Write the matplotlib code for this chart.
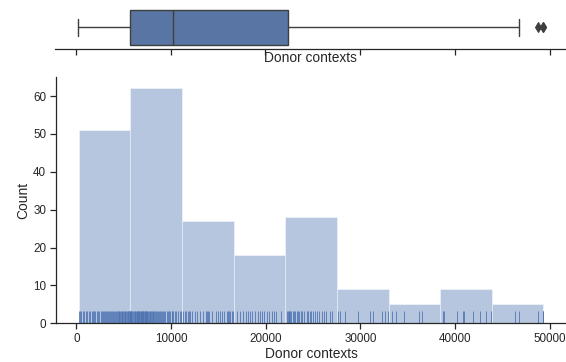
import numpy as np
import matplotlib
matplotlib.use("Agg")
import matplotlib.pyplot as plt
import seaborn as sns

# Donor context counts per sample
donor_contexts = np.array([
    # 250 - 5700
    250, 380, 520, 700, 850, 990, 1120, 1300, 1450, 1600,
    1720, 1850, 2000, 2150, 2280, 2400, 2550, 2700, 2830, 2950,
    3050, 3150, 3230, 3320, 3400, 3500, 3620, 3750, 3880, 3990,
    4100, 4200, 4300, 4380, 4460, 4540, 4620, 4700, 4780, 4860,
    4940, 5020, 5100, 5180, 5260, 5340, 5420, 5500, 5580, 5640, 5690,
    # 5700 - 11150
    5710, 5730, 5750, 5790, 5880, 6030, 6100, 6170, 6240, 6300,
    6360, 6420, 6480, 6540, 6600, 6660, 6720, 6780, 6840, 6900,
    6960, 7020, 7080, 7140, 7200, 7260, 7320, 7380, 7440, 7500,
    7580, 7660, 7740, 7820, 7900, 7980, 8060, 8140, 8220, 8300,
    8400, 8500, 8600, 8700, 8800, 8900, 9000, 9100, 9250, 9400,
    9550, 9700, 9820, 9940, 10050, 10150,
    10250, 10400, 10550, 10700, 10900, 11080,
    # 11150 - 16600
    11300, 11450, 11600, 11750, 11900, 12000, 12240, 12490, 12740, 13060,
    13400, 13730, 13820, 13910, 14010, 14300, 14720, 14930, 15180, 15420,
    15630, 15880, 16000, 16120, 16270, 16400, 16520,
    # 16600 - 22050
    16980, 17300, 17650, 17900, 18110, 18320, 18600, 18850, 19130, 19380,
    19600, 19800, 20100, 20350, 20610, 20850, 21070, 21600,
    # 22050 - 27500
    22240, 22380, 22420, 22480, 22600, 22720, 22850, 22980, 23100, 23250,
    23400, 23550, 23700, 23850, 24070, 24320, 24500, 24700, 24780, 24950,
    25200, 25450, 25660, 25900, 26150, 26370, 26790, 27040,
    # upper tail
    27600, 27850, 28410, 29720, 31030, 31380, 32260, 32580, 32860,
    33360, 33710, 34590, 36150, 36460,
    38700, 38800, 40240, 40850, 40950, 41900, 42680, 43300, 43770,
    46310, 46770, 48750, 49250, 49330,
])

x_label = "Donor contexts"
y_label = "Count"
n_bins = 9
x_ticks = [0, 10000, 20000, 30000, 40000, 50000]

sns.set_theme(style="ticks")
plt.rcParams["font.family"] = ["Liberation Sans", "DejaVu Sans"]
plt.rcParams["axes.labelsize"] = 13.7
plt.rcParams["xtick.labelsize"] = 11.6
plt.rcParams["ytick.labelsize"] = 11.6

blue = "#4c72b0"
box_face = "#5975a4"
line_grey = "#3f3f3f"

W, H = 566, 362
fig = plt.figure(figsize=(W / 72, H / 72), dpi=72)
ax_box = fig.add_axes([55 / W, 1 - 49.3 / H, 511.7 / W, 44.0 / H])
ax_hist = fig.add_axes([55.5 / W, 1 - 323.3 / H, 511.2 / W, 246.6 / H], sharex=ax_box)

# Box plot of the distribution
ax_box.boxplot(
    donor_contexts, vert=False, widths=0.8, patch_artist=True,
    boxprops=dict(facecolor=box_face, edgecolor=line_grey, linewidth=1.4),
    medianprops=dict(color=line_grey, linewidth=1.4),
    whiskerprops=dict(color=line_grey, linewidth=1.4),
    capprops=dict(color=line_grey, linewidth=1.4),
    flierprops=dict(marker="d", markerfacecolor=line_grey,
                    markeredgecolor=line_grey, markersize=6.5),
    positions=[0],
)
ax_box.set_ylim(0.5, -0.5)
ax_box.set_yticks([])
ax_box.tick_params(axis="x", labelbottom=False)
ax_box.set_xlabel(x_label)
ax_box.xaxis.set_label_coords(0.5, -0.045)
for side in ("left", "right", "top"):
    ax_box.spines[side].set_visible(False)

# Histogram with rug
ax_hist.hist(donor_contexts, bins=n_bins, color=blue, alpha=0.4,
             edgecolor="white", linewidth=1)
ax_hist.vlines(donor_contexts, 0, 0.05, transform=ax_hist.get_xaxis_transform(),
               color=blue, linewidth=1, alpha=0.8)
ax_hist.set_xlabel(x_label, labelpad=2.5)
ax_hist.set_ylabel(y_label, labelpad=3)
ax_hist.set_xticks(x_ticks)
ax_hist.margins(x=0.05)
ax_hist.set_ylim(0, 65.1)
for side in ("right", "top"):
    ax_hist.spines[side].set_visible(False)

fig.savefig("out.png", dpi=72)
